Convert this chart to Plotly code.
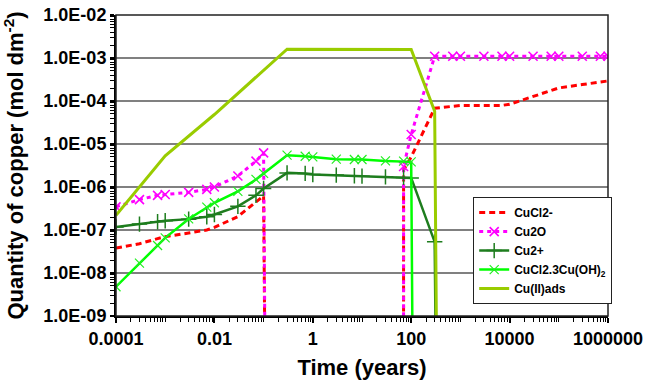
import plotly.graph_objects as go

# ---- data ----
BELOW = 1e-12  # value below the visible axis range (series drops off the chart)

t_cucl2 = [1e-4, 3e-4, 7e-4, 1e-3, 3e-3, 7e-3, 1e-2, 3e-2, 7e-2, 0.1, 0.11, 69.9, 70, 100,
           300, 700, 1000, 3000, 7000, 1e4, 3e4, 7e4, 1e5, 3e5, 7e5, 1e6]
v_cucl2 = [3.8e-8, 4.8e-8, 6.3e-8, 7.0e-8, 8.5e-8, 1.0e-7, 1.15e-7, 2.05e-7, 4.5e-7, 6.2e-7,
           BELOW, BELOW, 2.5e-6, 5.0e-6,
           6.8e-5, 7.7e-5, 7.85e-5, 7.85e-5, 7.9e-5, 8.4e-5, 1.26e-4, 1.73e-4, 2.01e-4,
           2.41e-4, 2.73e-4, 2.93e-4]

t_cu2o = [1e-4, 3e-4, 7e-4, 1e-3, 3e-3, 7e-3, 1e-2, 3e-2, 7e-2, 0.1, 0.11, 69.9, 70, 100,
          300, 700, 1000, 3000, 7000, 1e4, 3e4, 7e4, 1e5, 3e5, 7e5, 1e6]
v_cu2o = [3.46e-7, 5.1e-7, 6.4e-7, 6.7e-7, 7.5e-7, 8.8e-7, 1.0e-6, 1.8e-6, 4.0e-6, 6.2e-6,
          BELOW, BELOW, 3.0e-6, 1.66e-5,
          1.1e-3, 1.1e-3, 1.1e-3, 1.1e-3, 1.1e-3, 1.1e-3, 1.1e-3, 1.1e-3, 1.1e-3,
          1.1e-3, 1.1e-3, 1.1e-3]

t_cu2p = [1e-4, 3e-4, 7e-4, 1e-3, 3e-3, 7e-3, 1e-2, 3e-2, 7e-2, 0.1, 0.3, 0.7, 1, 3, 7,
          10, 30, 70, 100, 300, 330]
v_cu2p = [1.17e-7, 1.37e-7, 1.55e-7, 1.64e-7, 1.79e-7, 2.04e-7, 2.3e-7, 3.55e-7, 6.4e-7,
          9.2e-7, 2.13e-6, 2.07e-6, 1.96e-6, 1.89e-6, 1.82e-6, 1.79e-6, 1.72e-6, 1.67e-6,
          1.63e-6, 5.3e-8, BELOW]

t_atac = [1e-4, 3e-4, 7e-4, 1e-3, 3e-3, 7e-3, 1e-2, 3e-2, 7e-2, 0.1, 0.3, 0.7, 1, 3, 7,
          10, 30, 70, 100, 110]
v_atac = [4.8e-9, 1.7e-8, 4.35e-8, 6.55e-8, 1.81e-7, 3.4e-7, 4.3e-7, 7.9e-7, 1.5e-6,
          2.07e-6, 5.5e-6, 5.2e-6, 5.0e-6, 4.43e-6, 4.36e-6, 4.36e-6, 4.05e-6, 3.99e-6,
          3.84e-6, BELOW]

t_ads = [1e-4, 1e-3, 1e-2, 0.3, 100, 300, 340]
v_ads = [2.2e-7, 5.3e-6, 4.85e-5, 1.6e-3, 1.57e-3, 5.8e-5, BELOW]

series_names = ["CuCl2-", "Cu2O", "Cu2+", "CuCl2.3Cu(OH)<sub>2</sub>", "Cu(II)ads"]

x_tickvals = [1e-4, 1e-2, 1, 100, 1e4, 1e6]
x_ticktext = ["0.0001", "0.01", "1", "100", "10000", "1000000"]
y_tickvals = [1e-9, 1e-8, 1e-7, 1e-6, 1e-5, 1e-4, 1e-3, 1e-2]
y_ticktext = ["1.0E-09", "1.0E-08", "1.0E-07", "1.0E-06", "1.0E-05", "1.0E-04",
              "1.0E-03", "1.0E-02"]

FONT = "Liberation Sans, Arial, sans-serif"

fig = go.Figure()

fig.add_trace(go.Scatter(
    x=t_cucl2, y=v_cucl2, name=series_names[0], mode="lines",
    line=dict(color="#FF0000", width=3, dash="6px,4px")))

fig.add_trace(go.Scatter(
    x=t_cu2o, y=v_cu2o, name=series_names[1], mode="lines+markers",
    line=dict(color="#FF00FF", width=3, dash="4px,4px"),
    marker=dict(symbol="x-thin", size=9, line=dict(color="#FF00FF", width=1.6))))

fig.add_trace(go.Scatter(
    x=t_cu2p, y=v_cu2p, name=series_names[2], mode="lines+markers",
    line=dict(color="#1E7D1E", width=2.5),
    marker=dict(symbol="cross-thin", size=11, line=dict(color="#1E7D1E", width=1.5))))

fig.add_trace(go.Scatter(
    x=t_atac, y=v_atac, name=series_names[3], mode="lines+markers",
    line=dict(color="#00FF00", width=2.5),
    marker=dict(symbol="x-thin", size=9, line=dict(color="#22EE22", width=1.2))))

fig.add_trace(go.Scatter(
    x=t_ads, y=v_ads, name=series_names[4], mode="lines",
    line=dict(color="#99CC00", width=3)))

fig.update_layout(
    width=649, height=385,
    margin=dict(l=116, r=41, t=15, b=69, autoexpand=False),
    paper_bgcolor="white", plot_bgcolor="white",
    font=dict(family=FONT, color="black"),
    showlegend=True,
    legend=dict(
        x=0.726, y=0.395, xanchor="left", yanchor="top",
        bgcolor="white", bordercolor="#222222", borderwidth=1,
        font=dict(family=FONT, size=12, weight="bold", color="black"),
        tracegroupgap=0,
    ),
    xaxis=dict(
        type="log", range=[-4, 6], automargin=False,
        tickvals=x_tickvals, ticktext=x_ticktext,
        tickfont=dict(family=FONT, size=18, weight="bold"),
        showgrid=False, zeroline=False,
        showline=True, linecolor="black", linewidth=2,
        ticks="outside", ticklen=5, tickwidth=1.5, tickcolor="black",
        minor=dict(dtick="D1", ticks="outside", ticklen=4, tickwidth=1,
                   tickcolor="black", showgrid=False),
        title=dict(text="Time (years)", standoff=12,
                   font=dict(family=FONT, size=22, weight="bold")),
    ),
    yaxis=dict(
        type="log", range=[-9, -2], automargin=False,
        tickvals=y_tickvals, ticktext=y_ticktext,
        tickfont=dict(family=FONT, size=18, weight="bold"),
        showgrid=True, gridcolor="#808080", gridwidth=2,
        zeroline=False,
        showline=True, linecolor="black", linewidth=2,
        ticks="outside", ticklen=4, tickwidth=1.5, tickcolor="black",
        minor=dict(dtick="D1", ticks="outside", ticklen=4, tickwidth=1,
                   tickcolor="black", showgrid=False),
        title=dict(text="Quantity of copper (mol dm<sup>-2</sup>)", standoff=14,
                   font=dict(family=FONT, size=22, weight="bold")),
    ),
    shapes=[dict(type="rect", xref="paper", yref="paper", x0=0, x1=1, y0=0, y1=1,
                 line=dict(color="#222222", width=1.5), layer="above")],
)

fig.write_html("out.html",
               config={"displayModeBar": False},
               post_script="document.body.style.margin='0';document.body.style.overflow='hidden';")
